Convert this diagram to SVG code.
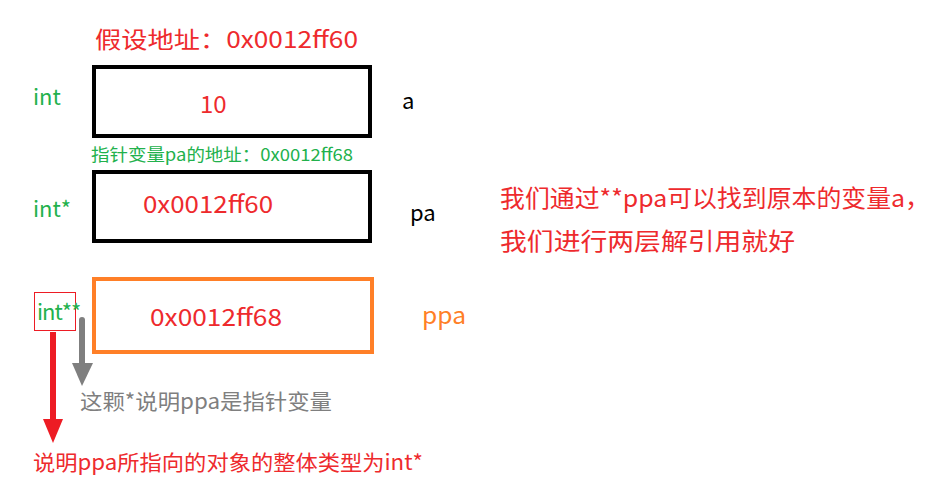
<svg xmlns="http://www.w3.org/2000/svg" width="947" height="504" viewBox="0 0 947 504">
<style>
text{font-family:"Noto Sans CJK SC","Noto Sans",sans-serif}
.red{fill:#ee2a2d}
.green{fill:#22b14c}
.blk{fill:#000}
.box{fill:#fff;stroke:#000;stroke-width:4}
</style>
<rect width="947" height="504" fill="#fff"/>
<text x="95" y="48" class="red" font-size="23" textLength="263" lengthAdjust="spacingAndGlyphs">假设地址：0x0012ff60</text>
<g id="node-a">
<rect class="box" x="94" y="67" width="276" height="69"/>
<text x="33" y="105" class="green" font-size="22">int</text>
<text x="200" y="113" class="red" font-size="24">10</text>
<text x="402" y="109" class="blk" font-size="22">a</text>
</g>
<text x="91" y="161" class="green" font-size="17" textLength="262" lengthAdjust="spacingAndGlyphs">指针变量pa的地址：0x0012ff68</text>
<g id="node-pa">
<rect class="box" x="94" y="172" width="276" height="69"/>
<text x="33" y="217" class="green" font-size="22">int*</text>
<text x="143" y="213" class="red" font-size="24" textLength="130" lengthAdjust="spacingAndGlyphs">0x0012ff60</text>
<text x="410" y="221" class="blk" font-size="22">pa</text>
</g>
<g id="node-ppa">
<rect x="94" y="279" width="278" height="73" fill="#fff" stroke="#ff7f27" stroke-width="4"/>
<rect x="34.5" y="292.5" width="41" height="38" fill="none" stroke="#ed1c24" stroke-width="1"/>
<text x="37" y="320" class="green" font-size="22" letter-spacing="-1">int**</text>
<text x="150" y="326" class="red" font-size="24" textLength="132" lengthAdjust="spacingAndGlyphs">0x0012ff68</text>
<text x="422" y="324" fill="#ff7f27" font-size="23" textLength="44" lengthAdjust="spacingAndGlyphs">ppa</text>
</g>
<g id="note">
<text x="500" y="207" class="red" font-size="24" textLength="430" lengthAdjust="spacingAndGlyphs">我们通过**ppa可以找到原本的变量a，</text>
<text x="500" y="250" class="red" font-size="24" textLength="295" lengthAdjust="spacingAndGlyphs">我们进行两层解引用就好</text>
</g>
<g id="connectors">
<line x1="53" y1="332" x2="53" y2="420" stroke="#ed1c24" stroke-width="6"/>
<path d="M43,419 L63,419 L53,443 Z" fill="#ed1c24"/>
<line x1="82" y1="320" x2="82" y2="364" stroke="#7f7f7f" stroke-width="6" stroke-linecap="round"/>
<path d="M72,363 L93,363 L82,386 Z" fill="#7f7f7f"/>
</g>
<text x="80" y="409" fill="#7f7f7f" font-size="21" textLength="252" lengthAdjust="spacingAndGlyphs">这颗*说明ppa是指针变量</text>
<text x="33" y="470" class="red" font-size="21" textLength="390" lengthAdjust="spacingAndGlyphs">说明ppa所指向的对象的整体类型为int*</text>
</svg>
